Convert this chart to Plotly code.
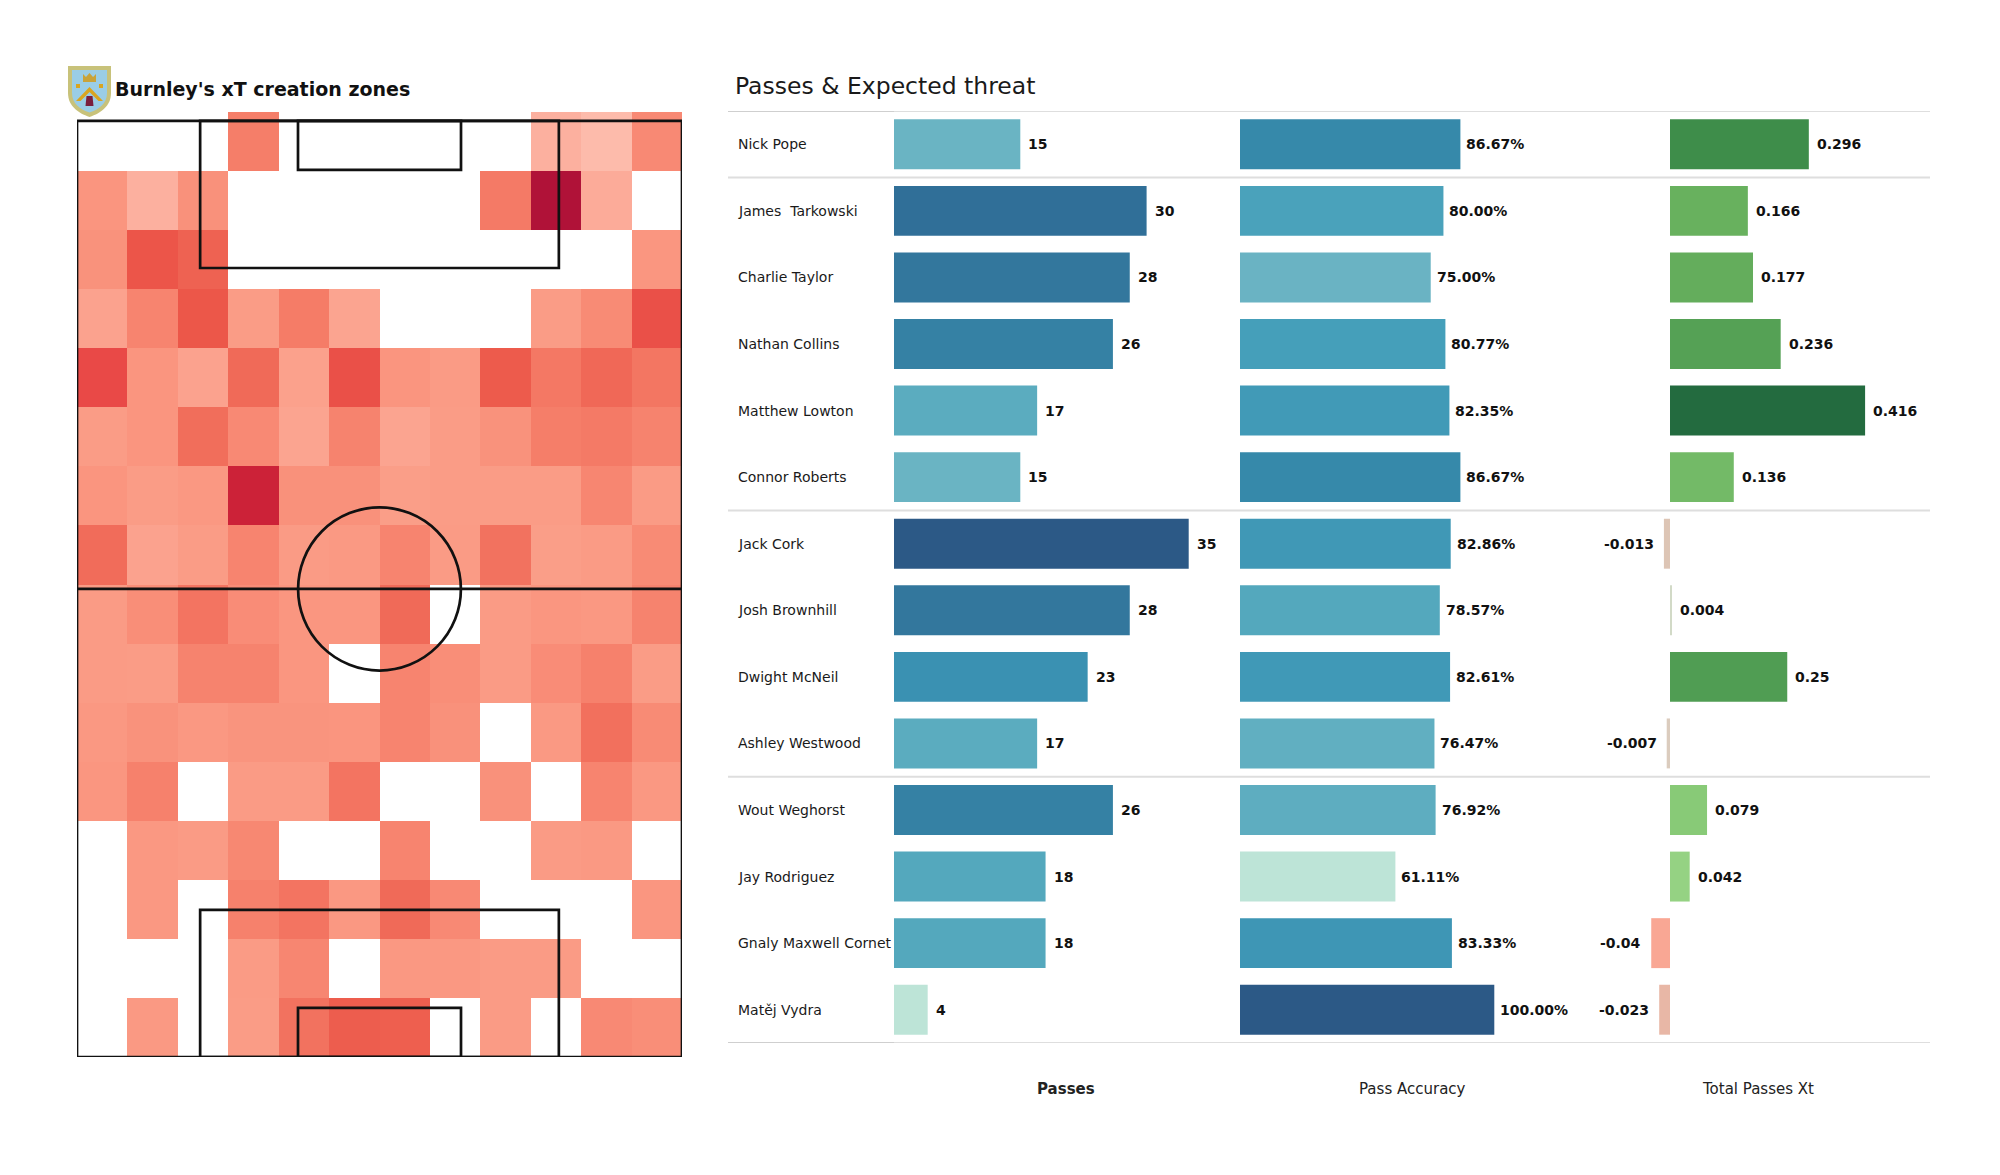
import plotly.graph_objects as go

W, H = 2000, 1175
FONT = "DejaVu Sans"
PAGE_OFFSET = 8  # default body margin of the written html page

# ---------------- data ----------------
players = ["Nick Pope", "James  Tarkowski", "Charlie Taylor", "Nathan Collins",
           "Matthew Lowton", "Connor Roberts", "Jack Cork", "Josh Brownhill",
           "Dwight McNeil", "Ashley Westwood", "Wout Weghorst", "Jay Rodriguez",
           "Gnaly Maxwell Cornet", "Matěj Vydra"]
position_groups = ["GK", "DF", "DF", "DF", "DF", "DF", "MF", "MF", "MF", "MF",
                   "FW", "FW", "FW", "FW"]
passes = [15, 30, 28, 26, 17, 15, 35, 28, 23, 17, 26, 18, 18, 4]
pass_accuracy = [86.67, 80.00, 75.00, 80.77, 82.35, 86.67, 82.86, 78.57, 82.61,
                 76.47, 76.92, 61.11, 83.33, 100.00]
passes_xt = [0.296, 0.166, 0.177, 0.236, 0.416, 0.136, -0.013, 0.004, 0.25,
             -0.007, 0.079, 0.042, -0.04, -0.023]
column_titles = ["Passes", "Pass Accuracy", "Total Passes Xt"]

heatmap_title = "Burnley's xT creation zones"
bars_title = "Passes & Expected threat"

# xT creation zones, rows listed from the top goal line down, 12 columns across
zone_values = [
    [0, 0, 0, 0.40, 0, 0, 0, 0, 0, 0.07, 0.01, 0.33],
    [0.25, 0.07, 0.28, 0, 0, 0, 0, 0, 0.42, 1.0, 0.10, 0],
    [0.27, 0.61, 0.54, 0, 0, 0, 0, 0, 0, 0, 0, 0.24],
    [0.16, 0.36, 0.60, 0.20, 0.41, 0.15, 0, 0, 0, 0.20, 0.32, 0.64],
    [0.68, 0.25, 0.16, 0.50, 0.17, 0.64, 0.25, 0.21, 0.58, 0.43, 0.51, 0.44],
    [0.20, 0.25, 0.48, 0.33, 0.15, 0.37, 0.15, 0.20, 0.27, 0.40, 0.42, 0.37],
    [0.25, 0.20, 0.23, 0.85, 0.28, 0.28, 0.19, 0.20, 0.20, 0.20, 0.35, 0.21],
    [0.49, 0.16, 0.20, 0.36, 0.21, 0.22, 0.36, 0.21, 0.46, 0.19, 0.21, 0.32],
    [0.21, 0.30, 0.45, 0.31, 0.24, 0.24, 0.50, 0, 0.21, 0.24, 0.23, 0.37],
    [0.21, 0.20, 0.37, 0.37, 0.24, 0, 0.36, 0.30, 0.21, 0.31, 0.38, 0.20],
    [0.23, 0.27, 0.23, 0.26, 0.26, 0.25, 0.36, 0.28, 0, 0.22, 0.47, 0.32],
    [0.24, 0.38, 0, 0.21, 0.21, 0.45, 0, 0, 0.28, 0, 0.36, 0.23],
    [0, 0.23, 0.21, 0.34, 0, 0, 0.36, 0, 0, 0.21, 0.22, 0],
    [0, 0.23, 0, 0.38, 0.45, 0.23, 0.50, 0.33, 0, 0, 0, 0.24],
    [0, 0, 0, 0.21, 0.35, 0, 0.23, 0.23, 0.21, 0.21, 0, 0],
    [0, 0.22, 0, 0.20, 0.46, 0.57, 0.56, 0, 0.21, 0, 0.33, 0.30],
]

PITCH_W, PITCH_L = 68.0, 105.0
HEAT_L = 106.0

# ---------------- styles ----------------
heat_scale = [[0.0, "#fdbdad"], [0.1, "#fcab99"], [0.2, "#fa9c86"], [0.3, "#f98e78"],
              [0.4, "#f57e69"], [0.5, "#f06a58"], [0.6, "#ec5749"], [0.7, "#e84646"],
              [0.85, "#cc2238"], [1.0, "#b01238"]]
blue_scale = [[0.0, "#bde4d7"], [0.36, "#69b3c3"], [0.45, "#54a8bd"], [0.5, "#46a0ba"],
              [0.61, "#3a91b3"], [0.66, "#3689aa"], [0.78, "#33769c"], [0.85, "#306e97"],
              [1.0, "#2c5986"]]
xt_scale = [[0.0, "#f9a794"], [0.037, "#e8b7a6"], [0.06, "#ddc6b6"], [0.088, "#d8d4c8"],
            [0.1, "#cfdcc6"], [0.18, "#95d283"], [0.26, "#88ca77"], [0.39, "#72b966"],
            [0.47, "#65ae5c"], [0.62, "#53a054"], [0.74, "#3d8c4a"], [1.0, "#236b3f"]]


def px(x):
    return (x - PAGE_OFFSET) / W


def py(y):
    return 1 - (y - PAGE_OFFSET) / H


fig = go.Figure()

# ---------------- heatmap pitch ----------------
nrows, ncols = len(zone_values), len(zone_values[0])
z = [[(v if v > 0 else None) for v in row] for row in reversed(zone_values)]
fig.add_trace(go.Heatmap(
    z=z, x0=PITCH_W / ncols / 2, dx=PITCH_W / ncols,
    y0=HEAT_L / nrows / 2, dy=HEAT_L / nrows,
    colorscale=heat_scale, zmin=0, zmax=1, showscale=False,
    hoverinfo="skip", xaxis="x", yaxis="y"))

line_style = dict(color="#111111", width=2.7)


def prect(x0, y0, x1, y1):
    fig.add_shape(type="rect", xref="x", yref="y", x0=x0, y0=y0, x1=x1, y1=y1,
                  line=line_style, fillcolor="rgba(0,0,0,0)", layer="above")


prect(0, 0, PITCH_W, PITCH_L)
fig.add_shape(type="line", xref="x", yref="y", x0=0, x1=PITCH_W,
              y0=PITCH_L / 2, y1=PITCH_L / 2, line=line_style, layer="above")
r = 9.15
fig.add_shape(type="circle", xref="x", yref="y", x0=PITCH_W / 2 - r, x1=PITCH_W / 2 + r,
              y0=PITCH_L / 2 - r, y1=PITCH_L / 2 + r, line=line_style,
              fillcolor="rgba(0,0,0,0)", layer="above")
pb_w, pb_d, sb_w, sb_d = 40.32, 16.5, 18.32, 5.5
prect(PITCH_W / 2 - pb_w / 2, 0, PITCH_W / 2 + pb_w / 2, pb_d)
prect(PITCH_W / 2 - pb_w / 2, PITCH_L - pb_d, PITCH_W / 2 + pb_w / 2, PITCH_L)
prect(PITCH_W / 2 - sb_w / 2, 0, PITCH_W / 2 + sb_w / 2, sb_d)
prect(PITCH_W / 2 - sb_w / 2, PITCH_L - sb_d, PITCH_W / 2 + sb_w / 2, PITCH_L)

# ---------------- bars ----------------
fig.add_trace(go.Bar(
    x=passes, y=players, orientation="h", xaxis="x2", yaxis="y2", width=0.75,
    marker=dict(color=passes, colorscale=blue_scale, cmin=min(passes), cmax=max(passes),
                line=dict(width=0)), hoverinfo="skip"))
fig.add_trace(go.Bar(
    x=pass_accuracy, y=players, orientation="h", xaxis="x3", yaxis="y2", width=0.75,
    marker=dict(color=pass_accuracy, colorscale=blue_scale, cmin=min(pass_accuracy),
                cmax=max(pass_accuracy), line=dict(width=0)), hoverinfo="skip"))
fig.add_trace(go.Bar(
    x=passes_xt, y=players, orientation="h", xaxis="x4", yaxis="y2", width=0.75,
    marker=dict(color=passes_xt, colorscale=xt_scale, cmin=min(passes_xt),
                cmax=max(passes_xt), line=dict(width=0)), hoverinfo="skip"))

annotations = []
lab_font = dict(family=FONT, size=14, color="#111111")
for name, p, a, t in zip(players, passes, pass_accuracy, passes_xt):
    annotations.append(dict(xref="paper", yref="y2", x=px(736), y=name, xanchor="left",
                            yanchor="middle", showarrow=False,
                            text=name.replace("  ", " \u00a0"),
                            font=dict(family=FONT, size=14, color="#1a1a1a")))
    annotations.append(dict(xref="x2", yref="y2", x=p, y=name, xanchor="left",
                            xshift=6, showarrow=False, text=f"<b>{p}</b>", font=lab_font))
    annotations.append(dict(xref="x3", yref="y2", x=a, y=name, xanchor="left",
                            xshift=4, showarrow=False, text=f"<b>{a:.2f}%</b>", font=lab_font))
    if t >= 0:
        annotations.append(dict(xref="x4", yref="y2", x=t, y=name, xanchor="left",
                                xshift=6, showarrow=False, text=f"<b>{t}</b>", font=lab_font))
    else:
        annotations.append(dict(xref="x4", yref="y2", x=t, y=name, xanchor="right",
                                xshift=-8, showarrow=False, text=f"<b>{t}</b>", font=lab_font))

# group separators
n = len(players)
bounds = [-0.5] + [i + 0.5 for i in range(n - 1) if position_groups[i] != position_groups[i + 1]] + [n - 0.5]
for b in bounds:
    fig.add_shape(type="line", xref="paper", yref="y2", x0=px(728), x1=px(1930), y0=b, y1=b,
                  line=dict(color="#dedede", width=2), layer="below")
for b in (bounds[0], bounds[-1]):
    fig.add_shape(type="line", xref="paper", yref="y2", x0=px(728), x1=px(894), y0=b, y1=b,
                  line=dict(color="#cfcfcf", width=2), layer="below")

# column titles
for title, cx, bold in zip(column_titles, [1066, 1412, 1758], [True, False, False]):
    annotations.append(dict(xref="paper", yref="paper", x=px(cx), y=py(1089),
                            xanchor="center", yanchor="middle", showarrow=False,
                            text=f"<b>{title}</b>" if bold else title,
                            font=dict(family=FONT, size=15, color="#222222")))

# titles
annotations.append(dict(xref="paper", yref="paper", x=px(733), y=py(86), xanchor="left",
                        yanchor="middle", showarrow=False, text=bars_title,
                        font=dict(family=FONT, size=23.5, color="#1a1a1a")))
annotations.append(dict(xref="paper", yref="paper", x=px(113), y=py(89), xanchor="left",
                        yanchor="middle", showarrow=False, text=f"<b>{heatmap_title}</b>",
                        font=dict(family=FONT, size=19, color="#111111")))


# ---------------- crest (decoration) ----------------
def path(start, segments):
    """segments: list of ('L', (x, y)) or ('C', (x1, y1, x2, y2, x, y)) in page pixels"""
    out = [f"M{px(start[0]):.5f},{py(start[1]):.5f}"]
    for cmd, vals in segments:
        pts = [f"{px(vals[i]):.5f},{py(vals[i + 1]):.5f}" for i in range(0, len(vals), 2)]
        out.append(cmd + " ".join(pts))
    return " ".join(out) + " Z"


shield_outer = path((68, 66), [("L", (111, 66)), ("L", (111, 93)),
                               ("C", (111, 106, 101, 113, 89.5, 117)),
                               ("C", (78, 113, 68, 106, 68, 93))])
shield_inner = path((72, 70), [("L", (107, 70)), ("L", (107, 93)),
                               ("C", (107, 103.5, 99, 109.5, 89.5, 112.5)),
                               ("C", (80, 109.5, 72, 103.5, 72, 93))])
chevron = path((76, 101), [("L", (89.5, 87)), ("L", (103, 101)), ("L", (98.5, 101)),
                           ("L", (89.5, 92)), ("L", (80.5, 101))])
crown = path((83, 74), [("L", (86, 77)), ("L", (89.5, 73)), ("L", (93, 77)), ("L", (96, 74)),
                        ("L", (96, 82)), ("L", (83, 82))])
lion = path((86.5, 96), [("L", (92.5, 96)), ("L", (93.5, 106)), ("L", (85.5, 106))])
bees = path((76, 84), [("L", (80, 84)), ("L", (80, 88)), ("L", (76, 88))])
bees2 = path((99, 84), [("L", (103, 84)), ("L", (103, 88)), ("L", (99, 88))])
for pth, col in [(shield_outer, "#c8c27a"), (shield_inner, "#9acde6"), (crown, "#c9a33a"),
                 (chevron, "#d9a520"), (lion, "#7a1f3d"), (bees, "#d9a520"),
                 (bees2, "#d9a520")]:
    fig.add_shape(type="path", xref="paper", yref="paper", path=pth, fillcolor=col,
                  line=dict(width=0), layer="above")

# ---------------- layout ----------------
hidden = dict(visible=False, showgrid=False, zeroline=False, fixedrange=True)
fig.update_layout(
    width=W, height=H, margin=dict(l=0, r=0, t=0, b=0),
    paper_bgcolor="white", plot_bgcolor="white", showlegend=False,
    font=dict(family=FONT, color="#1a1a1a"),
    xaxis=dict(domain=[px(77), px(682)], range=[0, PITCH_W], anchor="y", **hidden),
    yaxis=dict(domain=[py(1057), py(112)], range=[0, HEAT_L], anchor="x", **hidden),
    xaxis2=dict(domain=[px(894), px(1238)], range=[0, 344 / 8.42], anchor="y2", **hidden),
    xaxis3=dict(domain=[px(1240), px(1584)], range=[0, 344 / 2.543], anchor="y2", **hidden),
    xaxis4=dict(domain=[px(1584), px(1930)], range=[-86 / 469.0, 260 / 469.0], anchor="y2", **hidden),
    yaxis2=dict(domain=[py(1043), py(111)], range=[n - 0.5, -0.5], type="category",
                categoryorder="array", categoryarray=players, anchor="x2", **hidden),
    annotations=annotations,
    bargap=0.25,
)

fig.write_html("out.html")
